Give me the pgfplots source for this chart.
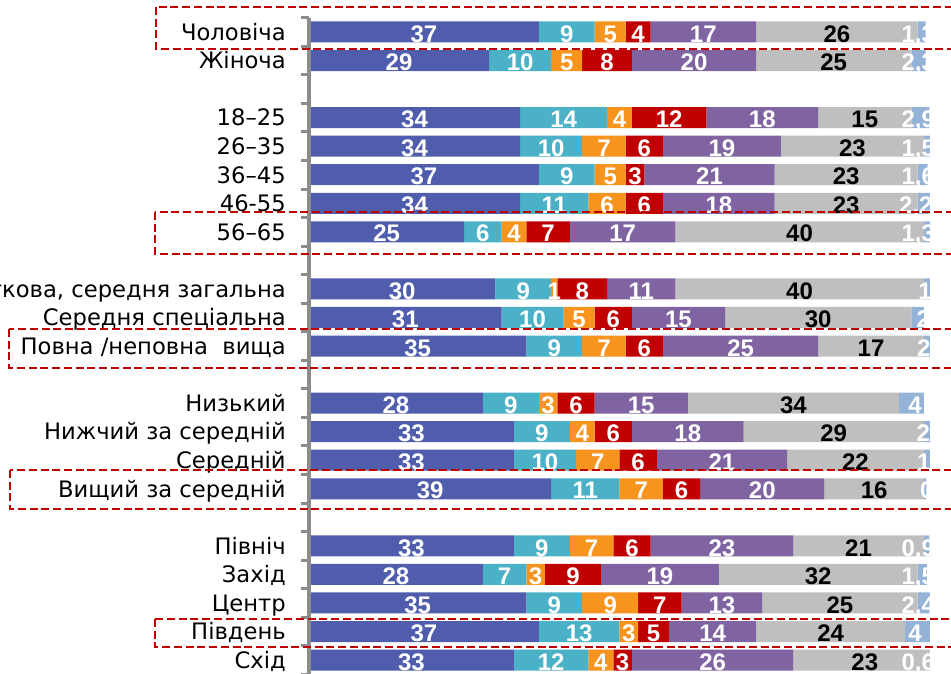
\documentclass[border=0pt]{standalone}
\usepackage{pgfplots}
\pgfplotsset{compat=1.18}
\usepackage{pgfplotstable}
\usepackage{fontspec}
\setmainfont{DejaVu Sans}
\newfontfamily\numfont{Liberation Sans}
\definecolor{c1}{RGB}{79,93,172}
\definecolor{c2}{RGB}{75,177,198}
\definecolor{c3}{RGB}{247,148,30}
\definecolor{c4}{RGB}{192,0,0}
\definecolor{c5}{RGB}{128,100,162}
\definecolor{c6}{RGB}{191,191,191}
\definecolor{c7}{RGB}{149,179,215}
\definecolor{axgray}{RGB}{140,140,140}
\definecolor{boxred}{RGB}{192,0,0}

\pgfplotstableread{
row a b c d e f g gx
0 37 9 5 4 17 26 1.3 98.1
1 29 10 5 8 20 25 2.3 98.1
3 34 14 4 12 18 15 2.9 98.1
4 34 10 7 6 19 23 1.5 98.1
5 37 9 5 3 21 23 1.6 98.1
6 34 11 6 6 18 23 2.2 97.7
7 25 6 4 7 17 40 1.3 98.1
9 30 9 1 8 11 40 1 99.2
10 31 10 5 6 15 30 2 98.9
11 35 9 7 6 25 17 2 99.0
13 28 9 3 6 15 34 4 97.6
14 33 9 4 6 18 29 2 98.9
15 33 10 7 6 21 22 1 99.0
16 39 11 7 6 20 16 0.4 101.1
18 33 9 7 6 23 21 0.9 98.1
19 28 7 3 9 19 32 1.5 98.1
20 35 9 9 7 13 25 2.4 98.1
21 37 13 3 5 14 24 4 97.6
22 33 12 4 3 26 23 0.6 98.1
}\data
\pgfplotstablecreatecol[create col/expr={\thisrow{a}/2}]{ca}\data
\pgfplotstablecreatecol[create col/expr={\thisrow{a}+\thisrow{b}/2}]{cb}\data
\pgfplotstablecreatecol[create col/expr={\thisrow{a}+\thisrow{b}+\thisrow{c}/2}]{cc}\data
\pgfplotstablecreatecol[create col/expr={\thisrow{a}+\thisrow{b}+\thisrow{c}+\thisrow{d}/2}]{cd}\data
\pgfplotstablecreatecol[create col/expr={\thisrow{a}+\thisrow{b}+\thisrow{c}+\thisrow{d}+\thisrow{e}/2}]{ce}\data
\pgfplotstablecreatecol[create col/expr={\thisrow{a}+\thisrow{b}+\thisrow{c}+\thisrow{d}+\thisrow{e}+\thisrow{f}/2}]{cf}\data

\pgfplotsset{
  frame/.style={at={(231.75pt,-13.275pt)}, anchor=north west,
    scale only axis, width=465.75pt, height=492.5pt,
    xmin=0, xmax=100, ymin=-0.5, ymax=22.5, y dir=reverse},
  lbl/.style={draw=none, mark=none, point meta=explicit,
    nodes near coords={\pgfmathprintnumber[use comma,1000 sep={},assume math mode=true]{\pgfplotspointmeta}},
    nodes near coords style={anchor=base, inner sep=0pt, yshift=-7.6pt,
      font=\numfont\bfseries\fontsize{18}{20}\selectfont, text=#1}},
}

\begin{document}
\begin{tikzpicture}
\path[use as bounding box] (0,0) rectangle (713.25pt,-505.5pt);
\clip (0,0) rectangle (713.25pt,-505.5pt);
\begin{axis}[
  frame,
  xbar stacked, bar width=15.75pt,
  axis x line=none, axis y line*=left,
  axis on top,
  y axis line style={draw=axgray, line width=3pt},
  xtick=\empty,
  ytick={0,1,3,4,5,6,7,9,10,11,13,14,15,16,18,19,20,21,22},
  yticklabels={Чоловіча, Жіноча, 18–25, 26–35, 36–45, 46-55, 56–65, {Початкова, середня загальна}, Середня спеціальна, Повна /неповна\ \ вища, Низький, Нижчий за середній, Середній, Вищий за середній, Північ, Захід, Центр, Південь, Схід},
  major tick length=0pt,
  minor ytick={-0.5,0.5,...,22.5},
  minor tick length=6pt,
  tick align=outside,
  minor tick style={draw=axgray, line width=2.25pt},
  yticklabel style={font=\fontsize{17}{20}\selectfont, anchor=base east, inner sep=0pt, xshift=-17.25pt, yshift=-6.2pt},
  clip=true,
]
\addplot[fill=c1, draw=none] table[x=a, y=row]{\data};
\addplot[fill=c2, draw=none] table[x=b, y=row]{\data};
\addplot[fill=c3, draw=none] table[x=c, y=row]{\data};
\addplot[fill=c4, draw=none] table[x=d, y=row]{\data};
\addplot[fill=c5, draw=none] table[x=e, y=row]{\data};
\addplot[fill=c6, draw=none] table[x=f, y=row]{\data};
\addplot[fill=c7, draw=none] table[x=g, y=row]{\data};
\end{axis}
\begin{axis}[frame, hide axis, clip=false]
\addplot[lbl=white] table[x=ca, y=row, meta=a]{\data};
\addplot[lbl=white] table[x=cb, y=row, meta=b]{\data};
\addplot[lbl=white] table[x=cc, y=row, meta=c]{\data};
\addplot[lbl=white] table[x=cd, y=row, meta=d]{\data};
\addplot[lbl=white] table[x=ce, y=row, meta=e]{\data};
\addplot[lbl=black] table[x=cf, y=row, meta=f]{\data};
\addplot[lbl=white] table[x=gx, y=row, meta=g]{\data};
\end{axis}
\begin{scope}[x=0.75pt, y=-0.75pt]
\fill[white] (930.5,-5) rectangle (965,690);
\tikzset{rb/.style={draw=boxred, line width=1.8pt, dash pattern=on 6pt off 2.8pt}}
\draw[rb] (156,7) rectangle (970,49);
\draw[rb] (155,212) rectangle (970,254);
\draw[rb] (9,329) rectangle (970,368);
\draw[rb] (10,470) rectangle (970,509);
\draw[rb] (155,619) rectangle (970,647);
\end{scope}
\end{tikzpicture}
\end{document}
